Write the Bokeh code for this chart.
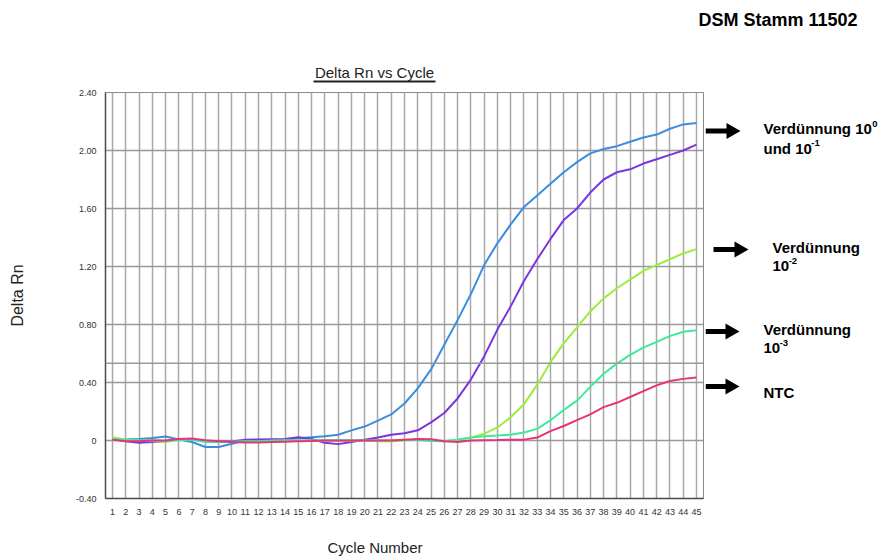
from bokeh.plotting import figure
from bokeh.layouts import column, row
from bokeh.models import FixedTicker, Span, Range1d
from bokeh.core.properties import value
from bokeh.embed import file_html
from bokeh.resources import INLINE

# ---------------- data ----------------
cycles = list(range(1, 46))

dil_1e0 = [0.005, 0.007, 0.010, 0.018, 0.027, 0.007, -0.010, -0.045, -0.045, -0.023,
           0.000, 0.000, 0.003, 0.007, 0.016, 0.023, 0.030, 0.040, 0.070, 0.096,
           0.137, 0.180, 0.255, 0.360, 0.490, 0.660, 0.830, 1.010, 1.210, 1.360,
           1.490, 1.610, 1.690, 1.770, 1.850, 1.920, 1.980, 2.010, 2.030, 2.060,
           2.090, 2.110, 2.150, 2.180, 2.190]

dil_1e1 = [0.010, -0.005, -0.016, -0.011, -0.005, 0.007, 0.007, -0.005, -0.010, -0.007,
           0.005, 0.007, 0.009, 0.010, 0.023, 0.010, -0.016, -0.025, -0.010, 0.005,
           0.020, 0.040, 0.050, 0.070, 0.125, 0.190, 0.290, 0.420, 0.580, 0.765,
           0.925, 1.100, 1.250, 1.390, 1.520, 1.600, 1.710, 1.800, 1.850, 1.870,
           1.910, 1.940, 1.970, 2.000, 2.040]

dil_1e2 = [0.023, 0.005, 0.000, -0.003, -0.010, 0.005, 0.007, -0.003, -0.010, -0.010,
           -0.008, -0.008, -0.003, 0.000, 0.000, 0.000, 0.000, 0.000, 0.000, 0.000,
           -0.005, -0.005, 0.000, 0.005, 0.000, -0.005, 0.005, 0.020, 0.046, 0.090,
           0.160, 0.250, 0.385, 0.540, 0.670, 0.780, 0.890, 0.980, 1.050, 1.110,
           1.170, 1.210, 1.250, 1.290, 1.320]

dil_1e3 = [0.010, 0.005, 0.000, 0.000, -0.005, 0.005, 0.007, -0.010, -0.010, -0.008,
           -0.005, -0.005, 0.000, 0.000, 0.000, 0.000, 0.000, 0.000, 0.000, 0.000,
           0.000, 0.000, 0.003, 0.003, -0.003, -0.005, 0.005, 0.020, 0.030, 0.035,
           0.040, 0.055, 0.080, 0.140, 0.210, 0.275, 0.370, 0.460, 0.530, 0.590,
           0.640, 0.680, 0.720, 0.750, 0.760]

ntc = [0.005, -0.005, -0.005, 0.000, 0.000, 0.010, 0.013, 0.002, -0.005, -0.010,
       -0.013, -0.013, -0.010, -0.008, -0.006, -0.004, 0.000, 0.000, 0.000, 0.000,
       0.000, 0.000, 0.005, 0.010, 0.008, -0.005, -0.010, 0.000, 0.002, 0.003,
       0.005, 0.006, 0.020, 0.065, 0.100, 0.140, 0.180, 0.230, 0.260, 0.300,
       0.340, 0.380, 0.410, 0.425, 0.435]

series_colors = ["#3b8de0", "#7b35e0", "#9cec3c", "#3ceb9a", "#e8327a"]

y_ticks = [-0.4, 0.0, 0.4, 0.8, 1.2, 1.6, 2.0, 2.4]
y_tick_labels = ["-0.40", "0", "0.40", "0.80", "1.20", "1.60", "2.00", "2.40"]
threshold = 0.533

# ---------------- layout (page pixels) ----------------
W = 880
TOP_H = 84            # header strip
MID_H = 436           # chart row
BOT_H = 38            # x-title strip
MAIN_W = 705          # chart figure width
FL, FR, FT, FB = 105, 703, 92, 498      # frame edges in page px
X0, X1 = 0.47, 45.53
Y0, Y1 = -0.40, 2.40
FONT = "Liberation Sans"


def strip(w, h, x0, y0, pad_top=0, pad_bottom=0):
    """figure whose frame maps data units to page pixels"""
    f = figure(width=w, height=h, x_range=Range1d(x0, x0 + w),
               y_range=Range1d(y0 + h - pad_bottom, y0 + pad_top),
               output_backend="svg", toolbar_location=None, title=None,
               x_axis_location=None, y_axis_location=None,
               min_border_left=0, min_border_right=0,
               min_border_top=pad_top, min_border_bottom=pad_bottom)
    for g in f.grid:
        g.visible = False
    f.outline_line_color = None
    f.background_fill_color = "white"
    f.border_fill_color = "white"
    return f


def txt(f, s, x, y, size, bold=False, align="left", color="#000000"):
    f.text(x=[x], y=[y], text=[s], text_font=value(FONT), text_font_size=value(size),
           text_font_style=value("bold" if bold else "normal"),
           text_align=value(align), text_baseline=value("middle"), text_color=color)


# ---- header strip ----
top = strip(W, TOP_H, 0, 0)
txt(top, "Delta Rn vs Cycle", 374, 71.5, "15px", align="center", color="#222222")
top.quad(left=[313], right=[435], top=[80], bottom=[82], fill_color="#222222", line_color=None)
txt(top, "DSM Stamm 11502", 698, 19.5, "18px", bold=True)

# ---- main chart ----
p = figure(width=MAIN_W, height=MID_H, x_range=(X0, X1), y_range=(Y0, Y1),
           output_backend="svg", toolbar_location=None, title=None,
           min_border_left=FL, min_border_right=MAIN_W - FR,
           min_border_top=FT - TOP_H, min_border_bottom=TOP_H + MID_H - FB)
p.background_fill_color = "white"
p.border_fill_color = "white"
p.outline_line_color = "#8a8a8a"
p.outline_line_width = 1

p.xaxis.ticker = FixedTicker(ticks=cycles)
p.xgrid.ticker = FixedTicker(ticks=cycles)
p.yaxis.ticker = FixedTicker(ticks=y_ticks)
p.ygrid.ticker = FixedTicker(ticks=y_ticks)
p.yaxis.major_label_overrides = {t: l for t, l in zip(y_ticks, y_tick_labels)}

for ax in (p.xaxis, p.yaxis):
    ax.major_tick_line_color = None
    ax.minor_tick_line_color = None
    ax.axis_line_color = "#4a4a4a"
    ax.axis_line_width = 1.5
    ax.major_label_text_font = FONT
    ax.major_label_text_font_size = "9px"
    ax.major_label_text_color = "#333333"
p.xaxis.major_label_standoff = 4
p.yaxis.major_label_standoff = 3

p.yaxis.axis_label = "Delta Rn"
p.yaxis.axis_label_text_font = FONT
p.yaxis.axis_label_text_font_size = "16px"
p.yaxis.axis_label_text_font_style = "normal"
p.yaxis.axis_label_text_color = "#222222"
p.yaxis.axis_label_standoff = 47

p.xgrid.grid_line_color = "#a8a8a8"
p.xgrid.grid_line_width = 1.5
p.ygrid.grid_line_color = "#999999"
p.ygrid.grid_line_width = 1.5

p.add_layout(Span(location=threshold, dimension="width", line_color="#999999", line_width=1.5))

for ys, col in zip([dil_1e0, dil_1e1, dil_1e2, dil_1e3, ntc], series_colors):
    p.line(cycles, ys, line_color=col, line_width=2)

# ---- right annotation strip (frame aligned with the chart frame) ----
side = strip(W - MAIN_W, MID_H, MAIN_W, TOP_H, pad_top=FT - TOP_H, pad_bottom=TOP_H + MID_H - FB)
arrow_rows = [(705, 740, 130.5), (713, 748, 249), (705, 739, 331), (705, 739, 386)]
HEAD_L, HEAD_H, SHAFT = 14, 8, 2.5
for x_s, x_e, yy in arrow_rows:
    xb = x_e - HEAD_L
    side.patch([x_s, xb, xb, x_e, xb, xb, x_s],
               [yy - SHAFT, yy - SHAFT, yy - HEAD_H, yy, yy + HEAD_H, yy + SHAFT, yy + SHAFT],
               fill_color="black", line_color=None)

EM = 15.0
SUP = "9.5px"
txt(side, "Verdünnung 10", 763, 128, "15px", bold=True)
txt(side, "0", 763 + 7.279 * EM - 0.5, 123, SUP, bold=True)
txt(side, "und 10", 763, 147.5, "15px", bold=True)
txt(side, "-1", 763 + 3.223 * EM - 0.5, 142.5, SUP, bold=True)

txt(side, "Verdünnung", 772, 247, "15px", bold=True)
txt(side, "10", 772, 265, "15px", bold=True)
txt(side, "-2", 772 + 1.112 * EM - 0.5, 260, SUP, bold=True)

txt(side, "Verdünnung", 763, 329, "15px", bold=True)
txt(side, "10", 763, 347, "15px", bold=True)
txt(side, "-3", 763 + 1.112 * EM - 0.5, 342, SUP, bold=True)

txt(side, "NTC", 763, 392, "15px", bold=True)

# ---- bottom strip ----
bot = strip(W, BOT_H, 0, TOP_H + MID_H)
txt(bot, "Cycle Number", 374.5, 547, "15px", align="center", color="#222222")

layout = column(top, row(p, side, spacing=0), bot, spacing=0)

open("out.html", "w").write(file_html(layout, INLINE))
